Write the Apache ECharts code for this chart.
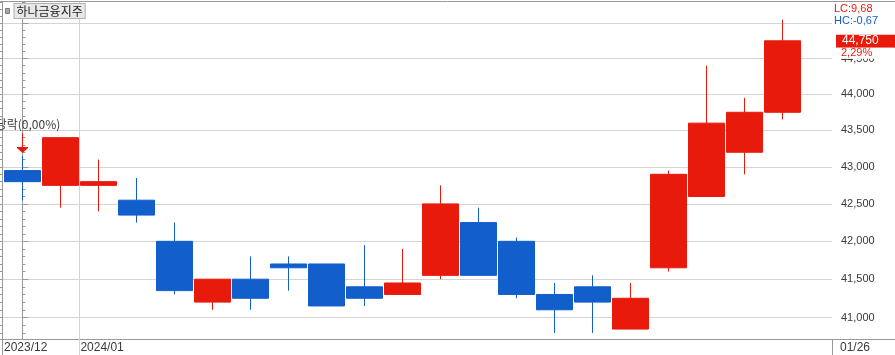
<!DOCTYPE html>
<html>
<head>
<meta charset="utf-8">
<script src="https://cdn.jsdelivr.net/npm/echarts@6/dist/echarts.min.js"></script>
<style>
  html, body { margin: 0; padding: 0; background: #fff; }
  #chart { width: 895px; height: 355px; }
</style>
</head>
<body>
<div id="chart"></div>
<script>
// ---- data ----
const seriesName = '하나금융지주';
const dates = ['2023/12/27','2023/12/28','2024/01/02','2024/01/03','2024/01/04','2024/01/05','2024/01/08',
  '2024/01/09','2024/01/10','2024/01/11','2024/01/12','2024/01/15','2024/01/16','2024/01/17','2024/01/18',
  '2024/01/19','2024/01/22','2024/01/23','2024/01/24','2024/01/25','2024/01/26'];
const opens  = [42950,42750,42750,42550,42000,41200,41500,41700,41700,41400,41300,41550,42250,42000,41300,41400,40850,41650,42600,43200,43750];
const closes = [42800,43400,42800,42350,41350,41500,41250,41650,41150,41250,41450,42500,41550,41300,41100,41200,41250,42900,43600,43750,44750];
const lows   = [42550,42450,42400,42250,41300,41100,41100,41350,41150,41150,41300,41500,41550,41250,40800,40800,40850,41600,42600,42900,43650];
const highs  = [43150,43400,43100,42850,42250,41500,41800,41800,41700,41950,41900,42750,42450,42050,41450,41550,41450,42950,44400,43950,45050];
const monthLabels = ['2023/12', '2024/01'];
const majorTicks = [41000, 41500, 42000, 42500, 43000, 43500, 44000, 44500, 45000];
const labelTicks = [41000, 41500, 42000, 42500, 43000, 43500, 44000, 44500];
const minorTicks = [];
for (let v = 40800; v <= 45300; v += 100) minorTicks.push(v);
const eventIndex = 0;
const eventText = '배당락(0,00%)';
const lcText = 'LC:9,68';
const hcText = 'HC:-0,67';

// ---- styles ----
const RED = '#E81A0C';
const BLUE = '#125ECB';
const GRID = '#d4d4d4';
const AXIS = '#999999';
const TXT = '#3a3a3a';
const LATIN = 'Liberation Sans';
const KR = 'Noto Sans CJK KR';

const L = Math.log;
const yMin = L(40722), yMax = L(45303);
const xMin = -0.5368, xMax = 21.305;
let monthBreak = dates.findIndex(d => d.slice(0, 7) !== dates[0].slice(0, 7)) - 0.5;
const last = dates.length - 1;
const lastDateLabel = dates[last].slice(5);
const fmt = v => Math.round(v).toLocaleString('en-US');
const pct = ((closes[last] / closes[last - 1] - 1) * 100).toFixed(2).replace('.', ',') + '%';

const candleData = dates.map((d, i) => [i, L(opens[i]), L(closes[i]), L(lows[i]), L(highs[i])]);
const eventCoord = [eventIndex, L(highs[eventIndex])];

const chart = echarts.init(document.getElementById('chart'), null, { renderer: 'canvas' });
chart.setOption({
  animation: false,
  grid: { left: 2, right: 63, top: 2, bottom: 16 },
  legend: {
    left: 5, top: 3, padding: 0, selectedMode: false, itemWidth: 4, itemHeight: 5,
    data: [{ name: seriesName, icon: 'rect', itemStyle: { color: '#a8a8a8', borderColor: '#7a7a7a', borderWidth: 1 } }],
    textStyle: { fontFamily: KR, fontSize: 12, color: '#222', backgroundColor: '#e8e8e8',
      borderColor: '#b0b0b0', borderWidth: 1, padding: [0, 2, 0, 2], lineHeight: 14 }
  },
  xAxis: [
    {
      type: 'value', min: xMin, max: xMax, position: 'bottom',
      axisLine: { show: true, lineStyle: { color: AXIS } },
      axisTick: { show: true, customValues: [xMin, xMax], length: 16, lineStyle: { color: AXIS } },
      splitLine: { show: false },
      axisLabel: {
        show: true, customValues: [xMin, monthBreak, xMax], align: 'left', margin: 3,
        fontFamily: LATIN, fontSize: 12, color: TXT,
        formatter: v => v < 0 ? '{l|' + monthLabels[0] + '}' : (v > last ? '{r|' + lastDateLabel + '}' : '{m|' + monthLabels[1] + '}'),
        rich: {
          l: { fontFamily: LATIN, fontSize: 12, color: TXT, padding: [0, 0, 0, 2] },
          m: { fontFamily: LATIN, fontSize: 12, color: TXT, padding: [0, 0, 0, 1] },
          r: { fontFamily: LATIN, fontSize: 12, color: TXT, padding: [0, 0, 0, 8] }
        }
      }
    },
    {
      type: 'value', min: xMin, max: xMax, position: 'bottom',
      axisLine: { show: false },
      axisTick: { show: true, customValues: [monthBreak], length: 16, lineStyle: { color: GRID } },
      splitLine: { show: true, lineStyle: { color: GRID } },
      axisLabel: { show: false }
    }
  ],
  yAxis: [
    {
      type: 'value', min: yMin, max: yMax, position: 'right', scale: true,
      axisLine: { show: true, lineStyle: { color: AXIS } },
      axisTick: { show: true, customValues: minorTicks.map(L), length: 3, lineStyle: { color: AXIS } },
      axisLabel: { show: false },
      splitLine: { show: false }
    },
    {
      type: 'value', min: yMin, max: yMax, position: 'right', scale: true,
      axisLine: { show: false },
      axisTick: { show: true, customValues: majorTicks.map(L), length: 6, lineStyle: { color: AXIS } },
      axisLabel: {
        show: true, customValues: labelTicks.map(L), margin: 9,
        fontFamily: LATIN, fontSize: 11, color: TXT,
        formatter: v => fmt(Math.exp(v))
      },
      splitLine: { show: true, lineStyle: { color: GRID } }
    },
    {
      type: 'value', min: yMin, max: yMax, position: 'left', scale: true,
      axisLine: { show: true, lineStyle: { color: AXIS } },
      axisTick: { show: true, customValues: minorTicks.map(L), length: 2, lineStyle: { color: AXIS } },
      axisLabel: { show: false },
      splitLine: { show: false }
    }
  ],
  series: [{
    type: 'candlestick', name: seriesName, xAxisIndex: 0, yAxisIndex: 0,
    encode: { x: 0, y: [1, 2, 3, 4] },
    data: candleData,
    barWidth: 36,
    itemStyle: { color: RED, color0: BLUE, borderColor: RED, borderColor0: BLUE, borderWidth: 1 },
    markPoint: {
      silent: true, animation: false,
      itemStyle: { color: RED },
      data: [
        {
          coord: eventCoord, symbol: 'rect', symbolSize: [1, 15], symbolOffset: [0.1, -15.5],
          itemStyle: { color: RED, opacity: 1 },
          label: { show: true, position: 'top', distance: 1, color: TXT, fontFamily: KR, fontSize: 12, lineHeight: 14,
            formatter: () => eventText }
        },
        {
          coord: eventCoord, symbol: 'path://M0,0L11,0L11,1L5.5,6L0,1Z', symbolSize: [11, 6], symbolOffset: [0.1, -6],
          itemStyle: { color: RED, opacity: 1 },
          label: { show: false }
        }
      ]
    },
    markLine: {
      silent: true, animation: false, symbol: ['none', 'none'],
      lineStyle: { color: 'rgba(0,0,0,0)', width: 0, opacity: 1 },
      label: {
        show: true, position: 'end', distance: 4, opacity: 1,
        formatter: () => '{e| }\n{a|' + fmt(closes[last]) + '}\n{b|' + pct + '}',
        rich: {
          e: { fontSize: 11, lineHeight: 19, height: 19 },
          a: { fontFamily: LATIN, fontSize: 12, color: '#fff', backgroundColor: RED, width: 53, height: 13, lineHeight: 13, padding: [0, 0, 0, 6] },
          b: { fontFamily: LATIN, fontSize: 11, color: RED, backgroundColor: '#fff', width: 53, height: 11, lineHeight: 11, padding: [0, 0, 0, 5] }
        }
      },
      data: [{ yAxis: L(closes[last]) }]
    }
  }],
  graphic: [
    { type: 'line', silent: true, shape: { x1: 0, y1: 1.5, x2: 895, y2: 1.5 }, style: { stroke: AXIS, lineWidth: 1 } },
    { type: 'line', silent: true, shape: { x1: 0, y1: 339.5, x2: 895, y2: 339.5 }, style: { stroke: AXIS, lineWidth: 1 } },
    { type: 'text', silent: true, left: 834, top: 3, style: { text: lcText, fill: RED, font: '11px "Liberation Sans"' } },
    { type: 'text', silent: true, left: 834, top: 15, style: { text: hcText, fill: BLUE, font: '11px "Liberation Sans"' } }
  ]
});
</script>
</body>
</html>
